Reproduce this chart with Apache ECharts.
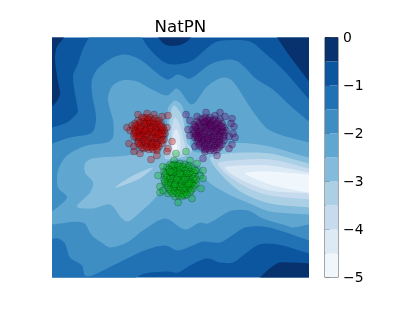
<!DOCTYPE html>
<html><head><meta charset="utf-8">
<style>html,body{margin:0;padding:0;background:#fff}#c{width:415px;height:312px}</style>
<script src="https://cdn.jsdelivr.net/npm/echarts@6/dist/echarts.min.js"></script>
</head><body><div id="c"></div>
<script>
// Colorbar levels and band colours (light to dark)
const levels = [-5,-4.5,-4,-3.5,-3,-2.5,-2,-1.5,-1,-0.5,0];
const bandColors = ['#eff6fc','#dceaf6','#c7dbef','#abd0e6','#82bbdb','#5fa6d1','#3e8ec4','#2171b5','#0c56a0','#08326e'];
const tickValues = [-5,-4,-3,-2,-1,0];
// Contour regions, in plot units (x 0..257, y 0..240 downward)
const darkTopLeft = [[-8,-8],[12,-8],[12,0],[5,9],[3,22],[6,44],[8,57],[3,66],[-8,74]];
const darkTopMid = [[104,-6],[113,7],[126,8],[135,4],[142,-6]];
const darkTopRight = [[220,-8],[225,0],[238,19],[257,44],[268,58],[268,-8]];
const darkBottomRight = [[200,250],[208,240],[225,226],[238,225],[257,226],[268,228],[268,250]];
const band2 = [[-8,92],[0,90],[15,85],[25,76],[26,74],[21,39],[26,26],[33,7],[44,-6],[83,-6],[98,12],[115,26],[138,24],[161,6],[171,3],[198,4],[211,14],[231,32],[257,62],[268,74],
  [268,218],[257,216],[231,208],[215,206],[205,208],[191,218],[181,225],[168,225],[155,221],[138,228],[126,235],[115,234],[93,236],[81,242],[70,250],[-8,250]];
const band3 = [[-8,108],[0,106],[18,100],[40,95],[44,80],[40,56],[40,42],[46,31],[61,20],[73,17],[88,22],[115,42],[126,37],[138,41],[158,27],[175,22],[186,24],[205,42],[221,52],[238,68],[257,84],[268,92],
  [268,206],[257,203],[231,194],[211,189],[193,190],[180,198],[168,205],[151,204],[138,209],[126,213],[113,208],[95,212],[71,223],[55,231],[40,238],[33,238],[30,228],[18,220],[13,206],[6,201],[-8,201]];
const band4 = [[-8,180],[0,174],[15,160],[6,150],[6,133],[15,118],[35,108],[55,105],[61,100],[61,83],[56,62],[60,49],[70,43],[85,44],[98,51],[115,58],[125,51],[140,67],[155,49],[171,40],[181,44],[201,74],[218,93],[257,105],[268,108],
  [268,188],[257,187],[241,190],[231,187],[211,181],[196,173],[180,173],[175,175],[156,186],[148,185],[133,192],[113,181],[91,193],[75,205],[58,210],[51,206],[40,198],[31,185],[0,187],[-8,187]];
const band5 = [[33,135],[33,126],[40,121],[75,118],[100,112],[115,101],[115,88],[116,71],[123,63],[130,68],[135,88],[138,101],[140,113],[150,115],[165,110],[180,106],[198,106],[218,109],[257,120],[268,122],
  [268,178],[257,177],[218,174],[200,167],[175,156],[155,143],[148,129],[125,122],[110,133],[108,154],[88,175],[76,184],[70,181],[58,167],[41,171],[25,169],[38,155],[41,145]];
const band6a = [[63,150],[81,138],[101,130],[88,141],[68,149]];
const band6b = [[122,68],[118,78],[117,95],[115,107],[113,121],[122,121],[135,118],[140,112],[135,105],[133,95],[130,78]];
const band6c = [[158,121],[168,117],[190,115],[218,116],[257,126],[268,128],[268,172],[257,170],[218,166],[190,155],[170,138]];
const band7a = [[123,80],[120,90],[119,105],[118,118],[127,118],[133,112],[131,100],[128,88]];
const band7b = [[166,126],[181,123],[218,122],[257,131],[268,133],[268,164],[257,162],[218,158],[195,150],[175,137]];
const band8a = [[122,94],[120,108],[122,115],[128,113],[128,102],[125,92]];
const band8b = [[173,130],[188,128],[218,128],[257,135],[268,136],[268,158],[257,156],[218,153],[195,145],[180,137]];
const band9a = [[121,104],[121,112],[125,112],[124,104]];
const band9b = [[193,136],[205,134],[218,134],[257,137],[268,138],[268,156],[257,155],[235,151],[215,146]];
const shapes = [
  [8,[[-8,-8],[268,-8],[268,250],[-8,250]]],
  [9,darkTopLeft],[9,darkTopMid],[9,darkTopRight],[9,darkBottomRight],
  [7,band2],[6,band3],[5,band4],[4,band5],
  [3,band6a],[3,band6b],[3,band6c],
  [2,band7a],[2,band7b],
  [1,band8a],[1,band8b],
  [0,band9a],[0,band9b]
];
// Scatter clusters, same plot units
const redPoints = [[86,77],[95,76],[102,77],[110,79],[116,78],[75,90],[80,88],[78,93],[77,106],[82,109],[82,114],[88,116],[99,122],[105,113],[105,118],[116,111],[120,104],[115,114],[115,90],[113,96],
  [90,80],[94,80],[98,80],[103,81],[107,83],[86,83],[91,84],[95,84],[100,85],[104,86],[109,86],[83,86],[87,87],[92,88],[97,88],[102,89],[106,90],[111,90],[82,91],[85,92],[90,92],[94,92],[99,92],[104,93],[109,94],[112,93],
  [82,96],[87,96],[92,96],[96,96],[101,97],[106,97],[111,98],[84,100],[89,100],[94,100],[98,101],[103,101],[108,102],[112,102],[86,104],[91,104],[96,105],[100,105],[105,105],[110,106],
  [88,108],[93,108],[98,109],[103,109],[107,109],[92,111],[97,112],[101,112],[95,86],[99,95],[89,94],[104,99],[94,103],[86,90],[108,92],[97,83],[91,97],[102,103],[85,98],[109,99],
  [92,81],[96,82],[101,83],[105,84],[88,85],[93,86],[98,86],[102,87],[107,87],[84,88],[89,89],[95,90],[100,90],[104,91],[110,92],[83,93],[87,94],[92,94],[97,94],[101,94],[106,95],[84,95],[90,98],[95,98],[100,99],[105,100],[110,96],[82,99],[87,102],[92,102],[96,103],[101,106],[106,107],[110,103],[89,106],[94,106],[99,107],[104,107],[90,110],[95,110],[100,110],[105,111],[87,99],[98,91],[93,93],[107,97],[103,95],[88,91],[109,89],[86,106]];
const purplePoints = [[134,77],[154,75],[168,75],[163,78],[180,81],[182,89],[179,86],[136,92],[138,98],[181,96],[183,100],[177,99],[180,107],[177,111],[165,118],[151,121],[153,114],[143,109],[145,79],[138,83],[173,79],
  [149,81],[153,80],[158,80],[163,82],[168,82],[145,84],[150,85],[155,84],[160,85],[165,86],[170,86],[142,87],[147,88],[152,89],[157,88],[162,89],[167,90],[172,90],[141,92],[145,92],[150,93],[155,92],[160,93],[165,94],[170,94],[174,93],
  [142,96],[147,97],[152,96],[157,97],[162,98],[167,98],[172,98],[143,100],[148,101],[153,100],[158,102],[163,102],[168,102],[172,103],[145,104],[150,105],[155,105],[160,106],[165,106],[170,107],
  [147,108],[152,109],[157,109],[162,110],[167,110],[153,112],[158,113],[162,113],[155,87],[164,91],[148,94],[159,99],[151,103],[168,96],[144,90],[157,83],[165,104],[145,98],
  [151,82],[156,82],[161,83],[166,84],[147,86],[152,86],[158,86],[163,87],[168,88],[143,89],[149,90],[154,90],[160,90],[165,92],[170,92],[172,95],[143,94],[147,95],[153,94],[158,95],[163,96],[168,99],[144,98],[149,99],[155,99],[160,100],[165,100],[171,100],[146,102],[152,102],[156,103],[161,104],[167,105],[148,106],[153,107],[158,107],[163,108],[168,108],[150,110],[155,111],[160,111],[165,112],[157,91],[162,94],[150,97],[156,101],[146,100],[170,89],[153,84],[159,88]];
const greenPoints = [[124,116],[134,114],[122,123],[138,123],[145,126],[151,133],[148,138],[151,141],[149,151],[140,161],[126,165],[123,159],[116,156],[108,155],[108,149],[106,138],[111,129],[111,153],[133,158],[144,133],
  [118,127],[123,127],[128,126],[133,127],[137,128],[115,130],[120,131],[125,130],[130,131],[135,132],[140,131],[112,134],[117,135],[122,135],[127,134],[132,136],[137,136],[142,135],[113,138],[118,139],[123,139],[128,138],[133,140],[138,140],[143,139],
  [112,142],[117,143],[122,143],[127,143],[132,144],[137,144],[142,143],[114,146],[119,147],[124,147],[129,147],[134,148],[139,148],[144,146],[116,150],[121,151],[126,151],[131,152],[136,152],[141,151],
  [119,154],[124,155],[129,155],[134,155],[138,155],[127,158],[130,159],[125,133],[130,142],[120,137],[135,138],[116,145],[126,149],[140,146],[122,128],[133,150],[128,129],[118,141],[137,150],
  [120,128],[126,128],[131,129],[136,130],[117,132],[122,133],[128,132],[133,133],[138,134],[143,133],[114,136],[120,135],[125,137],[130,137],[135,136],[140,137],[115,140],[121,141],[126,140],[131,140],[136,142],[141,141],[144,142],[113,144],[119,145],[124,145],[129,145],[134,146],[139,145],[116,148],[122,149],[128,149],[131,150],[136,148],[142,148],[118,152],[123,153],[128,153],[133,153],[139,153],[121,156],[126,156],[131,157],[135,157],[125,142],[128,136],[133,142],[118,134],[123,147],[137,146]];
const clusterStyles = [
  [redPoints,'rgba(205,0,0,0.42)'],
  [purplePoints,'rgba(100,0,110,0.42)'],
  [greenPoints,'rgba(0,185,15,0.42)']
];
const chart = echarts.init(document.getElementById('c'),null,{renderer:'canvas'});
chart.setOption({
  animation:false,
  backgroundColor:'#fff',
  title:{text:'NatPN',left:154.5,top:19,padding:0,textStyle:{fontFamily:'DejaVu Sans',fontSize:16.67,fontWeight:'normal',color:'#000'}},
  grid:[
    {left:52,top:37.5,width:257,height:240,show:false},
    {left:325,top:37.5,width:13,height:240,show:true,borderColor:'#222',borderWidth:0.8,backgroundColor:'transparent'}
  ],
  xAxis:[
    {gridIndex:0,type:'value',min:0,max:257,show:false},
    {gridIndex:1,type:'value',min:0,max:1,show:false}
  ],
  yAxis:[
    {gridIndex:0,type:'value',min:0,max:240,inverse:true,show:false},
    {gridIndex:1,type:'value',position:'right',min:-5,max:0,interval:1,
     axisLine:{show:true,lineStyle:{color:'#222',width:0.8}},
     axisTick:{show:true,length:4.9,lineStyle:{color:'#222',width:0.8}},
     splitLine:{show:false},
     axisLabel:{margin:5,color:'#000',fontFamily:'DejaVu Sans',fontSize:13.9,verticalAlign:'top',padding:[-6,0,0,0],
       customValues:tickValues,
       formatter:v=>v<0?'\u2212'+(-v):String(v)}}
  ],
  series:[
    {type:'custom',coordinateSystem:'cartesian2d',xAxisIndex:0,yAxisIndex:0,clip:true,silent:true,z:1,
     data:shapes.map((s,i)=>[i]),
     renderItem:(p,api)=>{const s=shapes[api.value(0)];
       return {type:'polygon',shape:{points:s[1].map(q=>api.coord(q)),smooth:0.3},style:{fill:bandColors[s[0]],stroke:null}};}},
    ...clusterStyles.map(c=>({type:'scatter',xAxisIndex:0,yAxisIndex:0,z:3,silent:true,symbolSize:7,data:c[0],
      itemStyle:{color:c[1],borderColor:'rgba(0,0,0,0.3)',borderWidth:0.8}})),
    {type:'custom',coordinateSystem:'cartesian2d',xAxisIndex:1,yAxisIndex:1,silent:true,z:1,
     data:levels.slice(0,-1).map((l,i)=>[i]),
     renderItem:(p,api)=>{const i=api.value(0),a=api.coord([0,levels[i+1]]),b=api.coord([1,levels[i]]);
       return {type:'rect',shape:{x:a[0],y:a[1],width:b[0]-a[0],height:b[1]-a[1]},style:{fill:bandColors[i]}};}}
  ]
});
</script></body></html>
